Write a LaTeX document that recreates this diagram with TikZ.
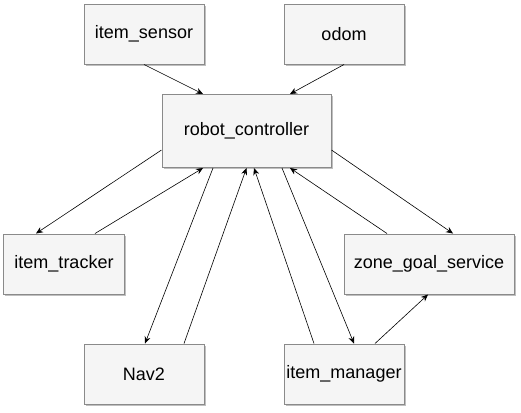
\documentclass[tikz,border=0pt]{standalone}
\usepackage{fontspec}
\setmainfont{Liberation Sans}
\usetikzlibrary{arrows.meta,shadows}
\definecolor{boxfill}{HTML}{F5F5F5}
\definecolor{boxline}{HTML}{8A8A8A}
\tikzset{
  box/.style={draw=boxline, line width=1bp, fill=boxfill, minimum width=120bp, minimum height=60bp,
    inner sep=0pt, font=\fontsize{18bp}{21bp}\selectfont,
    drop shadow={shadow xshift=1.5bp, shadow yshift=-1.5bp, opacity=0.25, fill=black}},
  arr/.style={-{Stealth[length=7bp,width=6bp]}, line width=0.6bp, black}
}
\begin{document}
\begin{tikzpicture}[x=1bp,y=-1bp]
\useasboundingbox (0,0) rectangle (521,412);
\node[box] (is) at (144,34) {item\_sensor};
\node[box] (od) at (344,34) {odom};
\node[box, minimum width=169bp, minimum height=73bp] (rc) at (246.5,131) {robot\_controller};
\node[box] (it) at (64,264) {item\_tracker};
\node[box, minimum width=170bp] (zg) at (429,264) {zone\_goal\_service};
\node[box] (nv) at (144,374) {Nav2};
\node[box] (im) at (344,374) {item\_manager};

\draw[arr] (is.south) -- ([xshift=-43.5bp]rc.north);
\draw[arr] (od.south) -- ([xshift=43.5bp]rc.north);
\draw[arr] ([yshift=-19bp]rc.west) -- ([xshift=-28bp]it.north);
\draw[arr] ([xshift=31bp]it.north) -- ([xshift=-43.5bp]rc.south);
\draw[arr] ([xshift=-33.5bp]rc.south) -- ([xshift=1bp]nv.north);
\draw[arr] ([xshift=40bp]nv.north) -- ([xshift=0bp]rc.south);
\draw[arr] ([xshift=-30bp]im.north) -- ([xshift=7.5bp]rc.south);
\draw[arr] ([xshift=35.5bp]rc.south) -- ([xshift=10bp]im.north);
\draw[arr] ([xshift=-42bp]zg.north) -- ([xshift=43.5bp]rc.south);
\draw[arr] ([yshift=-19bp]rc.east) -- ([xshift=24bp]zg.north);
\draw[arr] ([xshift=31bp]im.north) -- ([xshift=-1bp]zg.south);
\end{tikzpicture}
\end{document}
